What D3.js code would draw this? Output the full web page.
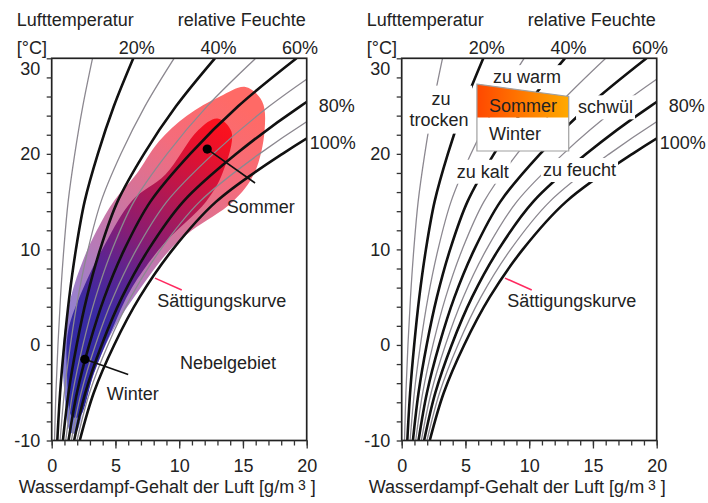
<!DOCTYPE html>
<html>
<head>
<meta charset="utf-8">
<script src="https://cdn.jsdelivr.net/npm/d3@7"></script>
<style>
body { margin: 0; background: #fff; }
svg text { font-family: "Liberation Sans", Arial, sans-serif; fill: #222; }
</style>
</head>
<body>
<div id="chart-area"></div>
<script>
// saturation curve (100%): temperature [°C] -> g/m3
var satTemps  = [-10, -5, 0, 5, 10, 15, 20, 25, 30];
var satValues = [2.2, 3.3, 4.9, 6.9, 9.5, 12.9, 18.1, 24.4, 32.0];

var humidities = [10, 20, 30, 40, 50, 60, 70, 80, 90, 100];
var boldHumidities = [20, 40, 60, 80, 100];
var topPercent = [20, 40, 60];
var xTickValues = [0, 5, 10, 15, 20];
var yTickValues = [-10, 0, 10, 20, 30];

// comfort areas of the left chart, outline as [g/m3, °C]
var outerArea = [[1.5, -9.2], [1.0, -5], [0.9, 0], [1.5, 5], [2.5, 9], [3.5, 11.9], [4.9, 15.1],
    [6.6, 17.8], [8.4, 21.3], [10.6, 24], [13.2, 26], [15.2, 27], [16.5, 25.5], [16.7, 22.5],
    [15.9, 18], [14.2, 15], [11.0, 12], [9.3, 10], [7.0, 6], [5.0, 2], [3.6, -2], [2.6, -6], [1.9, -9.2]];
var innerArea = [[1.6, -7.5], [1.2, -3], [1.3, 1.5], [2.5, 6], [4.2, 10.6], [6.3, 15.1], [8.9, 17.8],
    [11.5, 22.5], [13.0, 23.7], [14.1, 22.3], [13.4, 18], [12.1, 15], [8.8, 10.6], [6.3, 6],
    [4.7, 1.5], [3.3, -3], [2.2, -7.5]];
var summerPoint = [12.2, 20.5];
var winterPoint = [2.6, -1.5];

var width = 708, height = 503;
var plotW = 255, plotTop = 58.3, plotBottom = 440.5;
var panelX = [51.7, 401.7];

var svg = d3.select("#chart-area")
    .append("svg")
        .attr("width", width)
        .attr("height", height);

var defs = svg.append("defs");

function curveData(rh) {
    return satTemps.map(function(t, i) { return [satValues[i] * rh / 100, t]; });
}

function gradient(id, x1, y1, x2, y2, stops) {
    var gr = defs.append("linearGradient")
        .attr("id", id)
        .attr("gradientUnits", "userSpaceOnUse")
        .attr("x1", x1).attr("y1", y1).attr("x2", x2).attr("y2", y2);
    stops.forEach(function(s) {
        gr.append("stop").attr("offset", s[0]).attr("stop-color", s[1]);
    });
}

function label(g, txt, px, py, anchor) {
    return g.append("text")
        .attr("x", px)
        .attr("y", py)
        .attr("font-size", "18px")
        .attr("text-anchor", anchor || "start")
        .text(txt);
}

function drawPanel(ox, idx) {
    var x = d3.scaleLinear().domain([0, 20]).range([ox, ox + plotW]);
    var y = d3.scaleLinear().domain([-10, 30]).range([plotBottom, plotTop]);
    var g = svg.append("g");

    defs.append("clipPath").attr("id", "clip" + idx)
        .append("rect")
        .attr("x", x(0)).attr("y", y(30))
        .attr("width", x(20) - x(0)).attr("height", y(-10) - y(30));

    var line = d3.line()
        .x(function(d) { return x(d[0]); })
        .y(function(d) { return y(d[1]); })
        .curve(d3.curveCatmullRom);
    var closed = d3.line()
        .x(function(d) { return x(d[0]); })
        .y(function(d) { return y(d[1]); })
        .curve(d3.curveCatmullRomClosed);

    var plot = g.append("g").attr("clip-path", "url(#clip" + idx + ")");

    if (idx === 0) {
        gradient("outerGrad", x(0), y(-6), x(16), y(24), [
            [0, "#7c7cd8"], [0.28, "#9a80cc"], [0.44, "#b87ab6"], [0.6, "#d2749c"], [0.8, "#f46c7c"], [1, "#ff6a66"]]);
        gradient("innerGrad", x(0), y(-6), x(16), y(24), [
            [0, "#2a2aa8"], [0.28, "#3a2aa2"], [0.42, "#5e2490"], [0.54, "#8c1c70"], [0.66, "#b01854"], [0.8, "#dc1234"], [0.9, "#f81020"], [1, "#ff1a1a"]]);
        plot.append("path").attr("d", closed(outerArea)).attr("fill", "url(#outerGrad)");
        plot.append("path").attr("d", closed(innerArea)).attr("fill", "url(#innerGrad)");
    }

    plot.selectAll("path.rh")
        .data(humidities)
        .enter()
        .append("path")
            .attr("class", "rh")
            .attr("d", function(d) { return line(curveData(d)); })
            .attr("fill", "none")
            .attr("stroke", function(d) { return boldHumidities.indexOf(d) >= 0 ? "#111" : "#8c8890"; })
            .attr("stroke-width", function(d) { return boldHumidities.indexOf(d) >= 0 ? 2.6 : 1.3; });

    // frame
    g.append("rect")
        .attr("x", x(0)).attr("y", y(30))
        .attr("width", x(20) - x(0)).attr("height", y(-10) - y(30))
        .attr("fill", "none")
        .attr("stroke", "#222")
        .attr("stroke-width", 1.7);

    // Y axis
    var yAxisCall = d3.axisLeft(y)
        .tickValues(d3.range(-10, 31, 2))
        .tickSize(5)
        .tickPadding(6.5)
        .tickFormat(function(d) { return yTickValues.indexOf(d) >= 0 ? d : ""; });
    var yAxisGroup = g.append("g")
        .attr("transform", "translate(" + x(0) + ",0)")
        .call(yAxisCall);
    yAxisGroup.select(".domain").remove();
    yAxisGroup.selectAll("line").attr("stroke", "#333").attr("stroke-width", 1.3);
    yAxisGroup.selectAll("text").attr("font-size", "18px").attr("fill", "#222");
    yAxisGroup.selectAll(".tick").filter(function(d) { return d === 30; })
        .select("text").attr("transform", "translate(0,10)");

    // X axis, minor + major ticks
    var xMinor = g.append("g")
        .attr("transform", "translate(0," + y(-10) + ")")
        .call(d3.axisBottom(x).tickValues(d3.range(0, 21, 1)).tickSize(5).tickFormat(""));
    xMinor.select(".domain").remove();
    xMinor.selectAll("line").attr("stroke", "#333").attr("stroke-width", 1.3);
    var xMajor = g.append("g")
        .attr("transform", "translate(0," + y(-10) + ")")
        .call(d3.axisBottom(x).tickValues(xTickValues).tickSize(8).tickPadding(10.5));
    xMajor.select(".domain").remove();
    xMajor.selectAll("line").attr("stroke", "#333").attr("stroke-width", 1.3);
    xMajor.selectAll("text").attr("font-size", "18px").attr("fill", "#222");

    // X label
    var xl = g.append("text")
        .attr("x", ox - 33)
        .attr("y", 493)
        .attr("font-size", "18px");
    xl.append("tspan").text("Wasserdampf-Gehalt der Luft [g/m");
    xl.append("tspan").attr("font-size", "14px").attr("dy", -3).text(" 3");
    xl.append("tspan").attr("dy", 3).text(" ]");

    // header texts
    label(g, "Lufttemperatur", ox - 35, 26);
    label(g, "relative Feuchte", ox + 126, 26);
    label(g, "[°C]", ox - 35, 54);
    topPercent.forEach(function(p) {
        label(g, p + "%", x(satValues[satValues.length - 1] * p / 100) + 3.5, 54, "middle");
    });
    label(g, "80%", x(20) + 12, 111.5);
    label(g, "100%", x(20) + 3, 149);

    // saturation curve pointer
    g.append("line")
        .attr("x1", x(8.1)).attr("y1", y(7.0))
        .attr("x2", x(10.2)).attr("y2", y(5.75))
        .attr("stroke", "#ff2a60")
        .attr("stroke-width", 1.5);
    label(g, "Sättigungskurve", x(8.28), y(4.0));

    return { g: g, x: x, y: y };
}

var left = drawPanel(panelX[0], 0);
var right = drawPanel(panelX[1], 1);

// left chart: season points
[[summerPoint, [15.95, 16.95]], [winterPoint, [6.0, -3.1]]].forEach(function(p) {
    left.g.append("line")
        .attr("x1", left.x(p[0][0])).attr("y1", left.y(p[0][1]))
        .attr("x2", left.x(p[1][0])).attr("y2", left.y(p[1][1]))
        .attr("stroke", "#111")
        .attr("stroke-width", 1.6);
    left.g.append("circle")
        .attr("cx", left.x(p[0][0]))
        .attr("cy", left.y(p[0][1]))
        .attr("r", 4.6)
        .attr("fill", "#000");
});
label(left.g, "Sommer", left.x(13.73), left.y(13.8));
label(left.g, "Winter", left.x(4.31), left.y(-5.76));
label(left.g, "Nebelgebiet", left.x(10.06), left.y(-2.5));

// right chart: labels on white patches
var rx = right.x, ry = right.y;
function patchLabel(lines, pad) {
    var grp = right.g.append("g");
    var texts = lines.map(function(l) { return label(grp, l[0], rx(l[1]), ry(l[2]), l[3]); });
    var boxes = texts.map(function(t) { return t.node().getBBox(); });
    var x0 = d3.min(boxes, function(b) { return b.x; }) - pad,
        y0 = d3.min(boxes, function(b) { return b.y; }) - pad,
        x1 = d3.max(boxes, function(b) { return b.x + b.width; }) + pad,
        y1 = d3.max(boxes, function(b) { return b.y + b.height; }) + pad;
    grp.insert("rect", "text")
        .attr("x", x0).attr("y", y0)
        .attr("width", x1 - x0).attr("height", y1 - y0)
        .attr("fill", "#fff");
}
patchLabel([["zu", 3.08, 25.1, "middle"], ["trocken", 2.93, 22.9, "middle"]], 3.5);
patchLabel([["zu warm", 9.83, 27.4, "middle"]], 2);
patchLabel([["schwül", 13.83, 24.24]], 2);
patchLabel([["zu kalt", 4.31, 17.5]], 2);
patchLabel([["zu feucht", 11.08, 17.68]], 2);

// season box
gradient("summerGrad", rx(5.9), 0, rx(13.1), 0, [[0, "#ff4800"], [1, "#ffaa00"]]);
var bx0 = 5.9, bx1 = 13.1;
right.g.append("rect")
    .attr("x", rx(bx0)).attr("y", ry(23.8))
    .attr("width", rx(bx1) - rx(bx0)).attr("height", ry(20.3) - ry(23.8))
    .attr("fill", "#fff");
right.g.append("path")
    .attr("d", "M" + rx(bx0) + "," + ry(27.3) + "L" + rx(bx1) + "," + ry(26.0) +
               "L" + rx(bx1) + "," + ry(23.8) + "L" + rx(bx0) + "," + ry(23.8) + "Z")
    .attr("fill", "url(#summerGrad)");
right.g.append("path")
    .attr("d", "M" + rx(bx0) + "," + ry(27.3) + "L" + rx(bx1) + "," + ry(26.0) +
               "L" + rx(bx1) + "," + ry(20.3) + "L" + rx(bx0) + "," + ry(20.3) + "Z")
    .attr("fill", "none")
    .attr("stroke", "#a0a0a0")
    .attr("stroke-width", 1.2);
label(right.g, "Sommer", rx(6.85), ry(24.4));
label(right.g, "Winter", rx(6.85), ry(21.45));
</script>
</body>
</html>
